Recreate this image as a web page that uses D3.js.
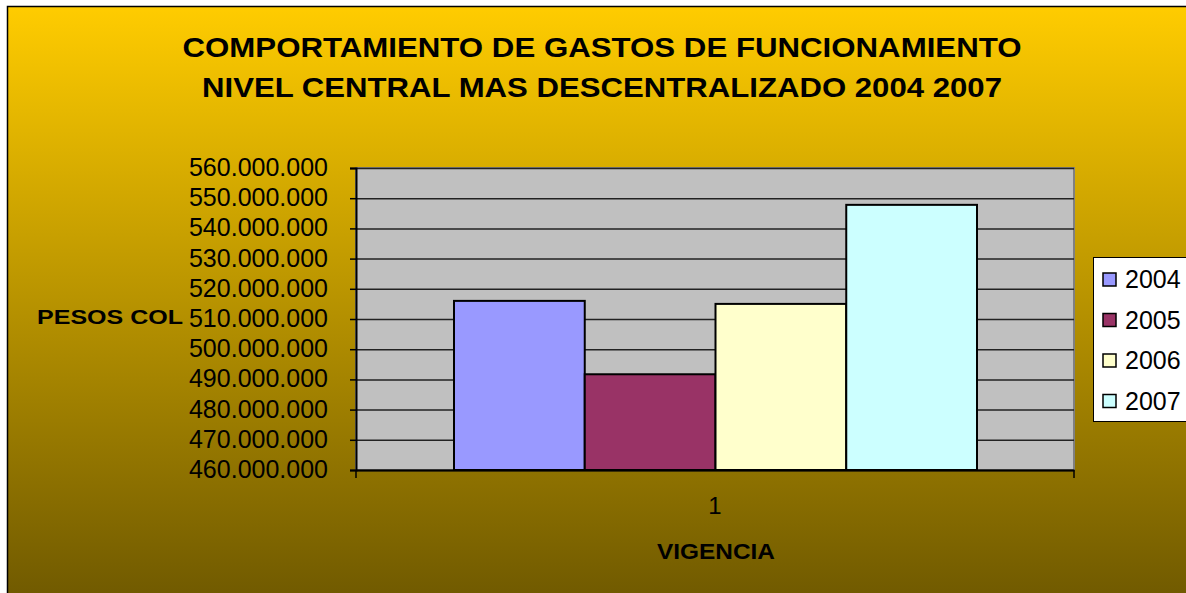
<!DOCTYPE html>
<html lang="en">
<head>
<meta charset="UTF-8" />
<title>Gastos de funcionamiento</title>
<script src="https://d3js.org/d3.v7.min.js"></script>
<style>
  body { margin: 0; background: #fff; }
  text { font-family: "Liberation Sans", Arial, sans-serif; }
</style>
</head>
<body>
<svg id="chart" width="1186" height="593"></svg>
<script>
const categories = ["1"];
const series = ["2004", "2005", "2006", "2007"];
const values = [516000000, 491700000, 515000000, 547800000];
const colors = ["#9999FF", "#993366", "#FFFFCC", "#CCFFFF"];
const yTicks = d3.range(460000000, 560000001, 10000000);
const titleLines = ["COMPORTAMIENTO DE GASTOS DE FUNCIONAMIENTO", "NIVEL CENTRAL MAS DESCENTRALIZADO 2004 2007"];

const svg = d3.select("svg#chart");
const margin = { top: 168, right: 112, bottom: 123, left: 356 };
const plotWidth = 1074 - margin.left;
const plotHeight = 470 - margin.top;

// background gradient
const defs = svg.append("defs");
const grad = defs.append("linearGradient").attr("id", "bg")
  .attr("x1", 0).attr("y1", 0).attr("x2", 0).attr("y2", 1);
grad.append("stop").attr("offset", "0%").attr("stop-color", "#FFCC00");
grad.append("stop").attr("offset", "100%").attr("stop-color", "#6E5800");

svg.append("rect")
  .attr("x", 7.5).attr("y", 6.5)
  .attr("width", 1190).attr("height", 600)
  .attr("fill", "url(#bg)")
  .attr("stroke", "#000").attr("stroke-width", 1.5);

// title
const titleWidths = [839, 800];
svg.selectAll("text.title").data(titleLines).join("text")
  .attr("class", "title")
  .attr("x", 602).attr("y", (d, i) => 57 + i * 40)
  .attr("text-anchor", "middle")
  .attr("textLength", (d, i) => titleWidths[i])
  .attr("lengthAdjust", "spacingAndGlyphs")
  .style("font-size", "28px").style("font-weight", "bold")
  .text(d => d);

const plot = svg.append("g").attr("transform", `translate(${margin.left},${margin.top})`);

const y = d3.scaleLinear().domain([460000000, 560000000]).range([plotHeight, 0]);
const x0 = d3.scaleBand().domain(categories).range([0, plotWidth]);
const x1 = d3.scaleBand().domain(series).range([98, plotWidth - 97]);

plot.append("rect")
  .attr("width", plotWidth).attr("height", plotHeight)
  .attr("fill", "#C0C0C0").attr("stroke", "#808080").attr("stroke-width", 2);

// gridlines
plot.append("g")
  .call(d3.axisLeft(y).tickValues(yTicks).tickSize(-plotWidth).tickFormat(""))
  .call(g => g.select(".domain").remove())
  .call(g => g.selectAll("line").attr("stroke", "#222").attr("stroke-width", 1.5));

// bars
plot.selectAll("rect.bar").data(series).join("rect")
  .attr("class", "bar")
  .attr("x", (d) => x0("1") + x1(d))
  .attr("y", (d, i) => y(values[i]))
  .attr("width", x1.bandwidth())
  .attr("height", (d, i) => plotHeight - y(values[i]))
  .attr("fill", (d, i) => colors[i])
  .attr("stroke", "#000").attr("stroke-width", 2);

// y axis
const fmt = d => d3.format(",")(d).replace(/,/g, ".");
plot.append("g")
  .call(d3.axisLeft(y).tickValues(yTicks).tickSize(6).tickPadding(22).tickFormat(fmt))
  .call(g => g.select(".domain").attr("stroke", "#000").attr("stroke-width", 2))
  .call(g => g.selectAll("line").attr("stroke", "#000").attr("stroke-width", 1.5))
  .call(g => g.selectAll("text").attr("fill", "#000").attr("dy", "0.3em")
    .style("font-family", "'Liberation Sans', Arial, sans-serif").style("font-size", "25px"));

// x axis
plot.append("g")
  .attr("transform", `translate(0,${plotHeight})`)
  .call(d3.axisBottom(x0).tickSize(0).tickPadding(27))
  .call(g => g.select(".domain").attr("stroke", "#000").attr("stroke-width", 2))
  .call(g => g.selectAll("text").attr("fill", "#000")
    .style("font-family", "'Liberation Sans', Arial, sans-serif").style("font-size", "24px"));
plot.append("g").selectAll("line").data([0, plotWidth]).join("line")
  .attr("x1", d => d).attr("x2", d => d)
  .attr("y1", plotHeight).attr("y2", plotHeight + 8)
  .attr("stroke", "#000").attr("stroke-width", 1.5);

// axis titles
svg.append("text").attr("x", 37).attr("y", 324)
  .attr("textLength", 146).attr("lengthAdjust", "spacingAndGlyphs")
  .style("font-size", "21px").style("font-weight", "bold").text("PESOS COL");
svg.append("text").attr("x", 716).attr("y", 559)
  .attr("text-anchor", "middle")
  .attr("textLength", 118).attr("lengthAdjust", "spacingAndGlyphs")
  .style("font-size", "22px").style("font-weight", "bold").text("VIGENCIA");

// legend
const legend = svg.append("g").attr("transform", "translate(1093,257)");
legend.append("rect")
  .attr("x", 0.5).attr("y", 0.5).attr("width", 100).attr("height", 164)
  .attr("fill", "#fff").attr("stroke", "#000");
const items = legend.selectAll("g.item").data(series).join("g")
  .attr("class", "item")
  .attr("transform", (d, i) => `translate(0,${22 + i * 40.5})`);
items.append("rect")
  .attr("x", 10).attr("y", -6).attr("width", 13).attr("height", 13)
  .attr("fill", (d, i) => colors[i]).attr("stroke", "#000").attr("stroke-width", 1.5);
items.append("text")
  .attr("x", 32).attr("y", 9)
  .style("font-size", "25px").text(d => d);
</script>
</body>
</html>
